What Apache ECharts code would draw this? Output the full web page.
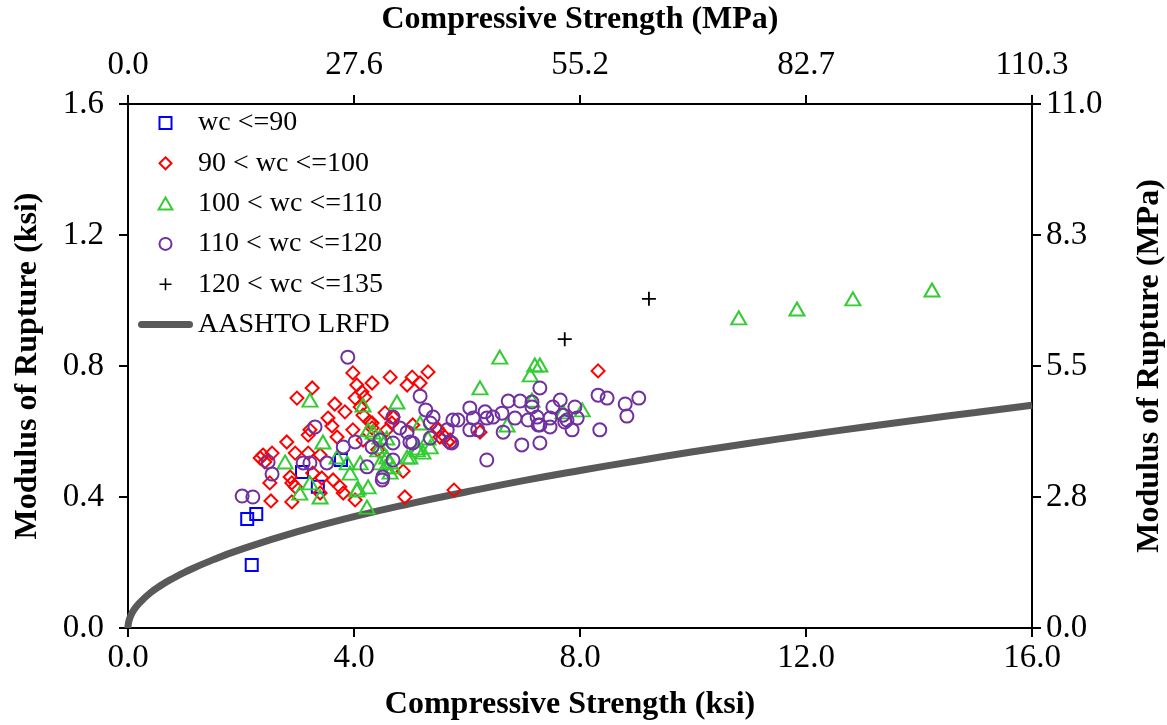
<!DOCTYPE html>
<html>
<head>
<meta charset="utf-8">
<script src="https://cdn.jsdelivr.net/npm/echarts@6/dist/echarts.min.js"></script>
<style>
  html, body { margin: 0; padding: 0; background: #fff; }
  #chart { width: 1167px; height: 725px; }
</style>
</head>
<body>
<div id="chart"></div>
<script>
// Modulus of rupture vs. compressive strength, grouped by unit weight wc (pcf)
const groupNames = ['wc <=90', '90 < wc <=100', '100 < wc <=110', '110 < wc <=120', '120 < wc <=135'];

// [compressive strength (ksi), modulus of rupture (ksi)]
const wcUpTo90 = [
  [2.11, 0.333], [2.27, 0.348], [2.19, 0.192], [3.08, 0.476], [3.36, 0.431], [3.77, 0.513]
];

const wc90to100 = [
  [3.98, 0.779], [4.64, 0.766], [5.03, 0.766], [5.31, 0.782], [5.17, 0.748], [4.94, 0.742],
  [4.32, 0.748], [4.05, 0.742], [3.26, 0.733], [2.99, 0.702], [4.14, 0.721], [4.19, 0.705],
  [4.02, 0.702], [3.66, 0.684], [3.84, 0.660], [4.11, 0.675], [4.16, 0.650], [3.54, 0.641],
  [3.61, 0.617], [3.22, 0.605], [3.19, 0.589], [3.98, 0.605], [4.32, 0.626], [4.58, 0.605],
  [3.70, 0.583], [2.81, 0.568], [2.96, 0.534], [2.39, 0.528], [2.55, 0.534], [2.34, 0.519],
  [3.19, 0.534], [3.40, 0.528], [2.51, 0.443], [2.90, 0.443], [3.43, 0.458], [3.75, 0.431],
  [3.81, 0.412], [2.53, 0.388], [2.90, 0.385], [4.02, 0.391], [4.90, 0.400], [4.87, 0.479],
  [3.40, 0.412], [3.27, 0.473], [2.96, 0.431], [3.63, 0.452], [5.77, 0.421], [8.32, 0.785],
  [5.66, 0.568], [5.61, 0.583], [6.23, 0.598], [5.49, 0.605], [4.16, 0.574], [4.42, 0.544],
  [4.28, 0.629], [4.67, 0.626], [5.04, 0.620], [4.55, 0.657], [4.69, 0.644], [5.47, 0.611],
  [5.52, 0.583], [5.70, 0.574], [4.32, 0.611], [2.42, 0.507], [2.87, 0.461]
];

const wc100to110 = [
  [3.22, 0.696], [4.16, 0.681], [4.76, 0.690], [3.45, 0.568], [2.78, 0.507], [4.25, 0.605],
  [4.46, 0.583], [3.70, 0.522], [3.88, 0.504], [3.93, 0.473], [4.11, 0.504], [4.46, 0.504],
  [4.58, 0.522], [4.69, 0.492], [4.94, 0.522], [5.12, 0.544], [5.35, 0.553], [3.04, 0.412],
  [3.22, 0.443], [3.40, 0.400], [4.05, 0.421], [4.25, 0.431], [4.23, 0.369], [4.46, 0.553],
  [4.55, 0.492], [6.58, 0.827], [6.23, 0.733], [7.20, 0.803], [7.29, 0.803], [7.12, 0.773],
  [7.15, 0.696], [6.71, 0.620], [8.04, 0.666], [7.70, 0.660], [5.22, 0.537], [5.17, 0.626],
  [5.31, 0.580], [5.13, 0.550], [4.99, 0.522], [4.64, 0.507], [4.64, 0.476], [4.42, 0.544],
  [4.34, 0.598], [4.58, 0.580], [4.07, 0.427],
  [10.81, 0.947], [11.84, 0.974], [12.83, 1.005], [14.23, 1.032]
];

const wc110to120 = [
  [3.89, 0.827], [5.17, 0.708], [5.27, 0.666], [5.40, 0.644], [5.35, 0.626], [5.65, 0.605],
  [4.69, 0.644], [4.81, 0.611], [4.94, 0.598], [5.04, 0.565], [5.35, 0.580], [3.31, 0.614],
  [2.48, 0.507], [2.55, 0.470], [3.10, 0.504], [3.22, 0.504], [3.52, 0.504], [3.81, 0.553],
  [4.02, 0.568], [4.32, 0.553], [4.46, 0.574], [4.69, 0.565], [4.23, 0.492], [4.50, 0.452],
  [4.69, 0.513], [2.02, 0.403], [2.21, 0.400], [5.75, 0.635], [5.73, 0.565], [6.05, 0.672],
  [6.11, 0.641], [6.05, 0.605], [6.19, 0.605], [6.32, 0.660], [6.35, 0.641], [6.46, 0.644],
  [6.62, 0.656], [6.35, 0.513], [6.64, 0.598], [6.73, 0.693], [6.94, 0.693], [6.85, 0.641],
  [7.08, 0.635], [7.15, 0.675], [7.29, 0.733], [7.24, 0.644], [7.47, 0.641], [7.29, 0.620],
  [7.47, 0.614], [7.52, 0.675], [7.65, 0.696], [7.70, 0.650], [7.77, 0.635], [7.91, 0.675],
  [7.95, 0.641], [7.86, 0.605], [6.97, 0.559], [7.29, 0.565], [8.35, 0.605], [8.32, 0.711],
  [8.48, 0.702], [8.80, 0.684], [8.83, 0.647], [9.04, 0.702], [7.15, 0.690], [7.26, 0.620],
  [7.73, 0.629], [4.99, 0.568], [4.51, 0.461], [5.84, 0.635], [5.70, 0.568]
];

const wc120to135 = [
  [7.73, 0.882], [9.22, 1.005]
];

// AASHTO LRFD design curve, [f'c (ksi), fr (ksi)]
const aashtoCurve = [
  [0, 0], [0.01, 0.017], [0.05, 0.038], [0.1, 0.054], [0.2, 0.076], [0.4, 0.108],
  [0.6, 0.132], [0.8, 0.152], [1, 0.170], [1.5, 0.208], [2, 0.240], [3, 0.294],
  [4, 0.340], [5, 0.380], [6, 0.416], [7, 0.450], [8, 0.481], [9, 0.510],
  [10, 0.538], [11, 0.564], [12, 0.589], [13, 0.613], [14, 0.636], [15, 0.658], [16, 0.680]
];

// Tick labels on the secondary (SI) axes
const mpaTopLabels = ['0.0', '27.6', '55.2', '82.7', '110.3'];
const mpaRightLabels = ['0.0', '2.8', '5.5', '8.3', '11.0'];

const FONT = '"Liberation Serif", "Times New Roman", serif';
const C_BLUE = '#0000FF', C_RED = '#FF0000', C_GREEN = '#33CC33', C_PURPLE = '#7030A0',
      C_BLACK = '#000000', C_LINE = '#595959';

const SQUARE = 'path://M0,0H1V1H0Z';
const DIAMOND = 'path://M0,-1L1,0L0,1L-1,0Z';
const TRIANGLE = 'path://M0.5,0L1,0.87L0,0.87Z';
const PLUS = 'path://M-0.13,-1H0.13V-0.13H1V0.13H0.13V1H-0.13V0.13H-1V-0.13H-0.13Z';
const BAR = 'path://M3.5,0H51.5A3.5,3.5,0,0,1,51.5,7H3.5A3.5,3.5,0,0,1,3.5,0Z';

const axisLine = { show: true, onZero: false, lineStyle: { color: '#000', width: 2 } };
const axisTick = { show: true, inside: false, length: 9, lineStyle: { color: '#000', width: 2 } };
const labelFont = { fontFamily: FONT, fontSize: 33, color: '#000' };
const nameFont = { fontFamily: FONT, fontSize: 32, fontWeight: 'bold', color: '#000' };

function hollow(color) {
  return { color: 'rgba(0,0,0,0)', borderColor: color, borderWidth: 2, opacity: 1 };
}

function scatter(name, data, symbol, size, style) {
  return {
    name, type: 'scatter', data, symbol, symbolSize: size, z: 3,
    itemStyle: style, emphasis: { disabled: true }
  };
}

const chart = echarts.init(document.getElementById('chart'), null, { renderer: 'canvas' });

chart.setOption({
  backgroundColor: '#fff',
  animation: false,
  grid: {
    left: 128, right: 135, top: 104, bottom: 97,
    containLabel: false, outerBoundsMode: 'none'
  },
  legend: {
    orient: 'vertical',
    left: 138,
    top: 109,
    padding: 0,
    itemWidth: 55,
    itemHeight: 12,
    itemGap: 12.3,
    symbolKeepAspect: true,
    textStyle: { fontFamily: FONT, fontSize: 28, color: '#000', lineHeight: 28 },
    data: [
      { name: groupNames[0], icon: SQUARE, itemStyle: hollow(C_BLUE) },
      { name: groupNames[1], icon: DIAMOND, itemStyle: hollow(C_RED) },
      { name: groupNames[2], icon: TRIANGLE, itemStyle: hollow(C_GREEN) },
      { name: groupNames[3], icon: 'circle', itemStyle: hollow(C_PURPLE) },
      { name: groupNames[4], icon: PLUS, itemStyle: { color: C_BLACK, borderWidth: 0, opacity: 1 } },
      { name: 'AASHTO LRFD', icon: BAR, itemStyle: { color: C_LINE, borderWidth: 0, opacity: 1 } }
    ]
  },
  xAxis: [
    {
      type: 'value', position: 'bottom', min: 0, max: 16, interval: 4,
      axisLine, axisTick, splitLine: { show: false },
      axisLabel: Object.assign({ margin: 14, formatter: v => v.toFixed(1) }, labelFont),
      name: 'Compressive Strength (ksi)', nameLocation: 'middle', nameGap: 61,
      nameTextStyle: Object.assign({ padding: [0, 20, 0, 0] }, nameFont)
    },
    {
      type: 'value', position: 'top', min: 0, max: 16, interval: 4,
      axisLine, axisTick, splitLine: { show: false },
      axisLabel: Object.assign({ margin: 22, formatter: v => mpaTopLabels[Math.round(v / 4)] }, labelFont),
      name: 'Compressive Strength (MPa)', nameLocation: 'middle', nameGap: 68,
      nameTextStyle: nameFont
    }
  ],
  yAxis: [
    {
      type: 'value', position: 'left', min: 0, max: 1.6, interval: 0.4,
      axisLine, axisTick, splitLine: { show: false },
      axisLabel: Object.assign({ margin: 24, formatter: v => v.toFixed(1) }, labelFont),
      name: 'Modulus of Rupture (ksi)', nameLocation: 'middle', nameGap: 84,
      nameTextStyle: nameFont
    },
    {
      type: 'value', position: 'right', min: 0, max: 1.6, interval: 0.4,
      axisLine, axisTick, splitLine: { show: false },
      axisLabel: Object.assign({ margin: 14, formatter: v => mpaRightLabels[Math.round(v / 0.4)] }, labelFont),
      name: 'Modulus of Rupture (MPa)', nameLocation: 'middle', nameGap: 102,
      nameTextStyle: nameFont
    }
  ],
  series: [
    {
      name: 'AASHTO LRFD', type: 'line', data: aashtoCurve, smooth: true,
      symbol: 'none', z: 1, emphasis: { disabled: true },
      lineStyle: { color: C_LINE, width: 7 }, itemStyle: { color: C_LINE }
    },
    scatter(groupNames[0], wcUpTo90, SQUARE, 12, hollow(C_BLUE)),
    scatter(groupNames[1], wc90to100, DIAMOND, 13, hollow(C_RED)),
    scatter(groupNames[2], wc100to110, TRIANGLE, [15, 13], hollow(C_GREEN)),
    scatter(groupNames[3], wc110to120, 'circle', 13, hollow(C_PURPLE)),
    scatter(groupNames[4], wc120to135, PLUS, 14, { color: C_BLACK, opacity: 1 })
  ]
});
</script>
</body>
</html>
